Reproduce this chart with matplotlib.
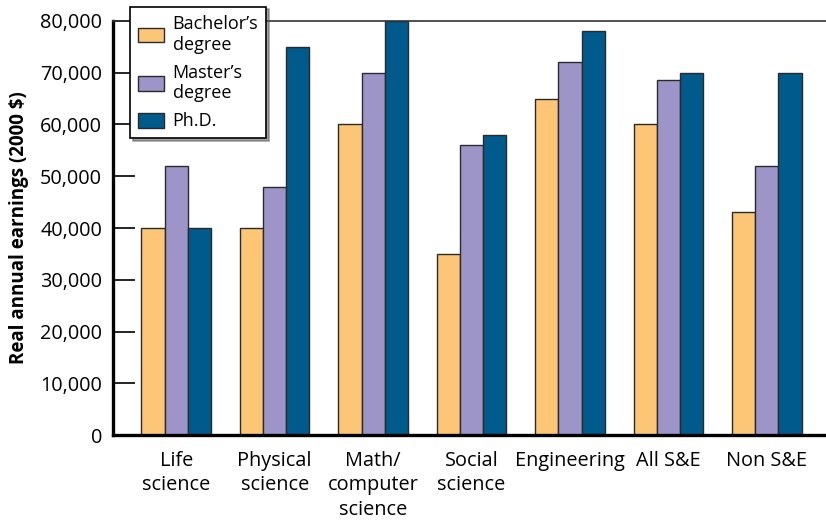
import matplotlib.pyplot as plt
import numpy as np

plt.rcParams['font.family'] = ['Open Sans', 'DejaVu Sans']

categories = ["Life\nscience", "Physical\nscience", "Math/\ncomputer\nscience",
              "Social\nscience", "Engineering", "All S&E", "Non S&E"]
bachelor = [40000, 40000, 60000, 35000, 65000, 60000, 43000]
master = [52000, 48000, 70000, 56000, 72000, 68500, 52000]
phd = [40000, 75000, 80000, 58000, 78000, 70000, 70000]
series_names = ["Bachelor\u2019s\ndegree", "Master\u2019s\ndegree", "Ph.D."]
colors = ["#FDC677", "#9D95C8", "#005A8B"]

fig = plt.figure(figsize=(8.26, 5.2), dpi=100)
ax = fig.add_axes([0.137, 0.163, 0.863, 0.797])

x = np.arange(len(categories))
w = 0.235
for i, (vals, name, c) in enumerate(zip([bachelor, master, phd], series_names, colors)):
    ax.bar(x + (i - 1) * w, vals, width=w, color=c, edgecolor="#2a2a2a",
           linewidth=1.0, label=name, zorder=2)

ax.set_xlim(-0.64, 6.6)
ax.set_ylim(0, 80000)
ax.set_yticks(np.arange(0, 80001, 10000))
ax.set_yticklabels([f"{v:,}" for v in range(0, 80001, 10000)], fontsize=14.3)
ax.set_xticks(x)
ax.set_xticklabels(categories, fontsize=14.3, linespacing=1.3)
ax.tick_params(axis='x', length=0, pad=11)
ax.tick_params(axis='y', direction='in', length=16, width=1.2, pad=8)

ax.spines['right'].set_visible(False)
ax.spines['left'].set_linewidth(2.4)
ax.spines['bottom'].set_linewidth(2.4)
ax.spines['top'].set_linewidth(1.2)
ax.spines['top'].set_color("#333333")

ax.set_ylabel("Real annual earnings (2000 $)", fontsize=13.5, fontweight='bold', labelpad=8)

leg = ax.legend(loc='upper left', bbox_to_anchor=(0.024, 1.034), borderaxespad=0,
                fontsize=13, frameon=True, fancybox=False, shadow=True,
                handlelength=1.4, handleheight=0.9, handletextpad=0.5,
                labelspacing=0.55, borderpad=0.45)
leg.get_frame().set_edgecolor("black")
leg.get_frame().set_linewidth(1.2)
leg.set_zorder(5)

fig.savefig("out.png", dpi=100)
